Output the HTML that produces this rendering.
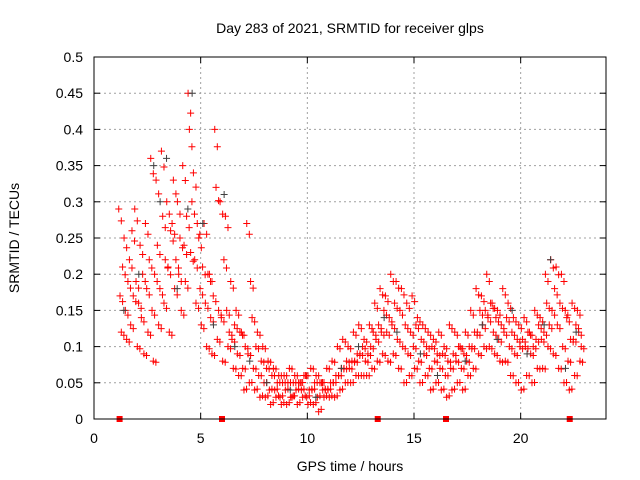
<!DOCTYPE html>
<html><head><meta charset="utf-8"><style>
body{margin:0;background:#fff;}
svg{display:block;font-family:"Liberation Sans",sans-serif;}
</style></head><body>
<svg id="c" width="640" height="480"></svg>
<script>
const times=[1.25,1.5,1.75,2.0,2.25,2.5,2.75,3.0,3.25,3.5,3.75,4.0,4.25,4.5,4.75,5.0,5.25,5.5,5.75,6.0,6.25,6.5,6.75,7.0,7.25,7.5,7.75,8.0,8.25,8.5,8.75,9.0,9.25,9.5,9.75,10.0,10.25,10.5,10.75,11.0,11.25,11.5,11.75,12.0,12.25,12.5,12.75,13.0,13.25,13.5,13.75,14.0,14.25,14.5,14.75,15.0,15.25,15.5,15.75,16.0,16.25,16.5,16.75,17.0,17.25,17.5,17.75,18.0,18.25,18.5,18.75,19.0,19.25,19.5,19.75,20.0,20.25,20.5,20.75,21.0,21.25,21.5,21.75,22.0,22.25,22.5,22.75];
const valsA=[.29,.25,.22,.29,.24,.27,.36,.33,.37,.3,.27,.3,.35,.45,.34,.25,.27,.2,.4,.3,.28,.19,.15,.12,.27,.14,.12,.1,.08,.07,.06,.06,.07,.06,.05,.06,.07,.06,.05,.07,.08,.1,.11,.1,.12,.13,.11,.13,.16,.18,.17,.2,.19,.18,.16,.17,.14,.13,.12,.11,.12,.1,.13,.12,.1,.12,.15,.18,.17,.2,.16,.15,.18,.16,.14,.13,.14,.12,.15,.14,.2,.22,.21,.2,.14,.16,.15];
const valsB=[.17,.15,.13,.19,.14,.18,.15,.24,.28,.21,.33,.2,.24,.4,.22,.18,.16,.14,.32,.14,.15,.11,.09,.07,.09,.07,.06,.05,.04,.04,.03,.04,.03,.04,.04,.03,.04,.03,.04,.04,.05,.06,.07,.07,.08,.09,.08,.1,.11,.12,.12,.13,.11,.1,.09,.1,.08,.09,.07,.08,.07,.06,.07,.08,.07,.08,.1,.12,.13,.14,.12,.11,.12,.1,.09,.1,.1,.09,.11,.11,.16,.15,.13,.1,.08,.11,.12];
const valsC=[.12,.11,.26,.1,.2,.12,.08,.13,.16,.12,.18,.25,.19,.23,.16,.13,.1,.09,.11,.08,.1,.07,.06,.04,.05,.04,.03,.03,.02,.03,.02,.02,.03,.02,.03,.02,.02,.01,.03,.03,.03,.04,.05,.05,.06,.06,.06,.07,.08,.09,.08,.09,.07,.05,.06,.07,.05,.06,.04,.05,.04,.03,.04,.05,.04,.06,.07,.09,.1,.1,.09,.08,.08,.06,.05,.04,.06,.05,.07,.07,.1,.09,.07,.05,.04,.06,.08];
const valsD=[.21,.19,.17,.16,.09,.22,.2,.18,.22,.26,.22,.15,.28,.3,.27,.21,.2,.17,.15,.22,.12,.13,.12,.1,.19,.1,.08,.07,.06,.05,.05,.05,.05,.05,.06,.04,.05,.05,.04,.05,.06,.07,.08,.08,.09,.1,.09,.12,.13,.15,.14,.16,.15,.13,.12,.13,.11,.1,.1,.09,.09,.08,.09,.1,.09,.1,.12,.15,.15,.16,.14,.13,.14,.12,.11,.11,.12,.1,.13,.12,.13,.18,.16,.15,.11,.13,.1];
const grayT=[1.4,2.1,2.8,3.1,3.4,3.9,4.4,4.6,5.1,5.6,6.1,6.6,7.3,8.1,9.2,10.4,11.6,12.4,13.6,14.2,15.3,16.1,17.4,18.2,18.9,19.6,20.3,21.1,21.4,22.1,22.6];
const grayV=[.15,.2,.35,.3,.36,.18,.29,.45,.27,.13,.31,.1,.08,.05,.04,.03,.07,.1,.14,.12,.09,.06,.08,.13,.11,.15,.09,.13,.22,.07,.12];
const markerT=[1.2,6.0,13.3,16.5,22.3];
const yTicks=[0,0.05,0.1,0.15,0.2,0.25,0.3,0.35,0.4,0.45,0.5];
const yTickLabels=["0","0.05","0.1","0.15","0.2","0.25","0.3","0.35","0.4","0.45","0.5"];
const xTicks=[0,5,10,15,20];
const xTickLabels=["0","5","10","15","20"];

const L=94,R=606,T=57,B=419;
const X=t=>L+(R-L)*t/24;
const Y=v=>B-(B-T)*v/0.5;
const svg=document.getElementById('c');
const NS='http://www.w3.org/2000/svg';
function mk(tag,attrs,parent){const e=document.createElementNS(NS,tag);for(const k in attrs)e.setAttribute(k,attrs[k]);(parent||svg).appendChild(e);return e;}

const grid=mk('g',{});


yTicks.forEach((v,i)=>{
  if(i>0&&i<yTicks.length-1){const g=mk('line',{x1:L,x2:R,y1:Y(v),y2:Y(v),stroke:'#a0a0a0','stroke-dasharray':'2,3'},grid);}
  const tk=mk('line',{x1:L,x2:L+6,y1:Y(v),y2:Y(v),stroke:'#000'});
  
  
  mk('line',{x1:R,x2:R-6,y1:Y(v),y2:Y(v),stroke:'#000'});
  const tx=mk('text',{x:L-11,y:Y(v)+5,'text-anchor':'end','font-size':'14',fill:'#000'});
  tx.textContent=yTickLabels[i];
  
  
});
xTicks.forEach((t,i)=>{
  if(i>0){const g=mk('line',{x1:X(t),x2:X(t),y1:T,y2:B,stroke:'#a0a0a0','stroke-dasharray':'2,3'},grid);}
  const tk=mk('line',{x1:X(t),x2:X(t),y1:B,y2:B-6,stroke:'#000'});
  
  
  mk('line',{x1:X(t),x2:X(t),y1:T,y2:T+6,stroke:'#000'});
  const tx=mk('text',{x:X(t),y:B+24,'text-anchor':'middle','font-size':'14',fill:'#000'});
  tx.textContent=xTickLabels[i];
  
  
});

function cross(t,v,color,g){
  const x=X(t),y=Y(v);
  const p=mk('path',{d:`M${x-3.5},${y}h7M${x},${y-3.5}v7`,stroke:color,'stroke-width':1},g);
  
  
}
const red=mk('g',{});


const gray=mk('g',{});


grayT.forEach((t,i)=>cross(t,grayV[i],'#404040',gray));
[valsA,valsB,valsC,valsD].forEach((arr,k)=>{
  times.forEach((t,i)=>{
    if(arr[i]!==undefined){cross(t+k*0.06-0.09,arr[i],'#ff0000',red);cross(t+k*0.06+0.03,arr[i]*0.93+0.004,'#ff0000',red);}
  });
});
markerT.forEach(t=>{
  const r=mk('rect',{x:X(t)-3,y:B-3,width:6,height:6,fill:'#ff0000'});
  
  
});
const frame=mk('rect',{x:L,y:T,width:R-L,height:B-T,fill:'none',stroke:'#000'});


const title=mk('text',{x:350,y:33,'text-anchor':'middle','font-size':'14'});
title.textContent='Day 283 of 2021, SRMTID for receiver glps';


const xl=mk('text',{x:350,y:471,'text-anchor':'middle','font-size':'14'});
xl.textContent='GPS time / hours';


const yl=mk('text',{x:0,y:0,'text-anchor':'middle','font-size':'14',transform:'translate(19,238) rotate(-90)'});
yl.textContent='SRMTID / TECUs';


</script>
</body></html>
